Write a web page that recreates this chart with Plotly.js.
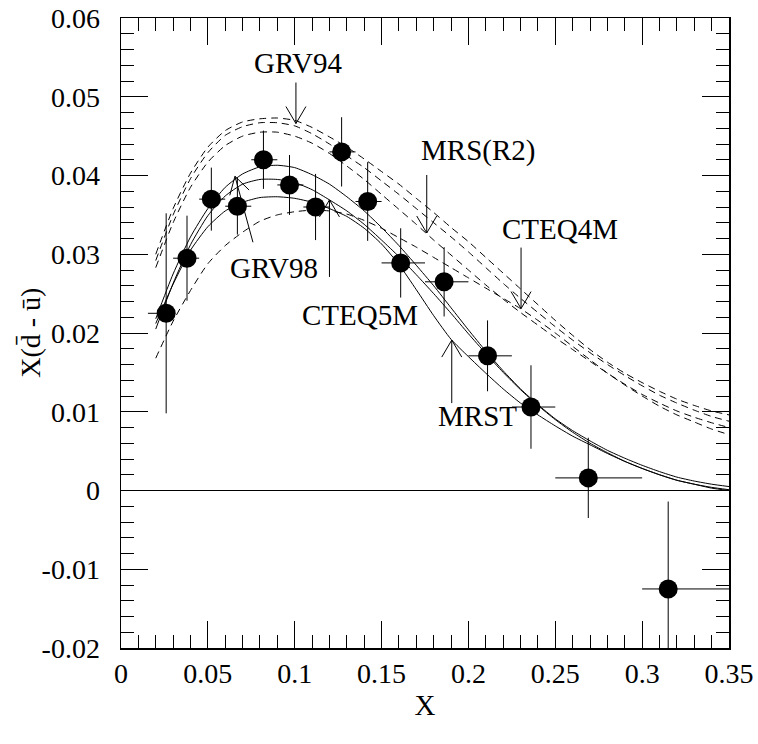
<!DOCTYPE html>
<html>
<head>
<meta charset="utf-8">
<script src="https://cdn.plot.ly/plotly-3.0.1.min.js"></script>
<style>
  html, body { margin: 0; padding: 0; background: #ffffff; }
  #plot { width: 758px; height: 744px; }
</style>
</head>
<body>
<div id="plot"></div>
<script>
// Measured x(dbar - ubar) with statistical errors and bin half-widths
const dataX = [0.026, 0.038, 0.052, 0.067, 0.082, 0.097, 0.112, 0.127, 0.142, 0.161, 0.186, 0.211, 0.236, 0.269, 0.315];
const dataY = [0.0225, 0.0295, 0.0370, 0.0361, 0.0420, 0.0388, 0.0360, 0.0430, 0.0367, 0.0289, 0.0265, 0.0171, 0.0106, 0.0016, -0.0125];
const dataYErr = [0.0127, 0.0054, 0.0040, 0.0036, 0.0037, 0.0038, 0.0042, 0.0044, 0.0050, 0.0044, 0.0044, 0.0045, 0.0053, 0.0051, 0.0111];
const dataXErrMinus = [0.0105, 0.008, 0.007, 0.007, 0.007, 0.007, 0.007, 0.007, 0.007, 0.011, 0.011, 0.011, 0.011, 0.019, 0.015];
const dataXErrPlus  = [0.0050, 0.007, 0.008, 0.008, 0.008, 0.008, 0.008, 0.008, 0.008, 0.014, 0.014, 0.014, 0.014, 0.031, 0.035];

// Parametrization curves, sampled on a common x grid
const curveX = [0.02,0.03,0.04,0.05,0.06,0.07,0.08,0.09,0.10,0.11,0.12,0.13,0.14,0.15,0.16,0.17,0.18,0.19,0.20,0.21,0.22,0.23,0.24,0.25,0.26,0.27,0.28,0.29,0.30,0.31,0.32,0.33,0.34,0.35];

// older fits (dashed)
const grv94  = [0.0300,0.0358,0.0403,0.0436,0.0457,0.0468,0.0472,0.0473,0.0470,0.0461,0.0449,0.0436,0.0421,0.0405,0.0389,0.0371,0.0353,0.0334,0.0316,0.0296,0.0276,0.0256,0.0236,0.0216,0.0197,0.0179,0.0163,0.0149,0.0137,0.0126,0.0116,0.0108,0.0101,0.0096];
const mrsR1  = [0.0292,0.0350,0.0396,0.0429,0.0451,0.0462,0.0467,0.0467,0.0463,0.0453,0.0440,0.0425,0.0410,0.0393,0.0376,0.0358,0.0340,0.0322,0.0303,0.0283,0.0263,0.0244,0.0226,0.0208,0.0191,0.0175,0.0160,0.0146,0.0133,0.0121,0.0111,0.0102,0.0094,0.0088];
const mrsR2  = [0.0283,0.0340,0.0385,0.0417,0.0438,0.0450,0.0455,0.0455,0.0450,0.0441,0.0428,0.0412,0.0395,0.0376,0.0357,0.0338,0.0318,0.0299,0.0280,0.0261,0.0243,0.0226,0.0210,0.0194,0.0179,0.0164,0.0149,0.0135,0.0122,0.0111,0.0101,0.0093,0.0086,0.0080];
const cteq4m = [0.0168,0.0215,0.0254,0.0288,0.0311,0.0328,0.0342,0.0350,0.0354,0.0356,0.0355,0.0351,0.0343,0.0333,0.0321,0.0309,0.0296,0.0283,0.0270,0.0257,0.0244,0.0231,0.0216,0.0200,0.0183,0.0166,0.0149,0.0134,0.0120,0.0107,0.0096,0.0087,0.0078,0.0071];

// newer fits (solid)
const grv98  = [0.0218,0.0275,0.0322,0.0358,0.0385,0.0402,0.0411,0.0413,0.0410,0.0401,0.0389,0.0373,0.0355,0.0334,0.0311,0.0286,0.0260,0.0232,0.0204,0.0177,0.0152,0.0129,0.0109,0.0091,0.0076,0.0063,0.0051,0.0041,0.0032,0.0024,0.0017,0.0012,0.0008,0.0005];
const cteq5m = [0.0205,0.0263,0.0312,0.0349,0.0374,0.0389,0.0395,0.0395,0.0391,0.0382,0.0369,0.0355,0.0338,0.0318,0.0297,0.0274,0.0250,0.0225,0.0199,0.0174,0.0150,0.0128,0.0108,0.0090,0.0074,0.0060,0.0048,0.0037,0.0028,0.0020,0.0013,0.0008,0.0004,0.0001];
const mrst   = [0.0212,0.0262,0.0305,0.0335,0.0355,0.0366,0.0372,0.0373,0.0371,0.0366,0.0358,0.0348,0.0333,0.0313,0.0287,0.0255,0.0222,0.0192,0.0170,0.0149,0.0129,0.0111,0.0096,0.0082,0.0069,0.0058,0.0047,0.0037,0.0028,0.0020,0.0013,0.0008,0.0003,0.0000];

// Axis ticks
const yTickVals = [-0.02, -0.01, 0, 0.01, 0.02, 0.03, 0.04, 0.05, 0.06];
const yTickText = ['-0.02', '-0.01', '0', '0.01', '0.02', '0.03', '0.04', '0.05', '0.06'];
const xTickVals = [0, 0.05, 0.1, 0.15, 0.2, 0.25, 0.3, 0.35];
const xTickText = ['0', '0.05', '0.1', '0.15', '0.2', '0.25', '0.3', '0.35'];

// Curve labels and the points their arrows touch
const labelText = ['GRV94', 'MRS(R2)', 'CTEQ4M', 'GRV98', 'CTEQ5M', 'MRST'];
const labelX    = [0.1019, 0.2055, 0.2527, 0.0881, 0.1376, 0.2050];
const labelY    = [0.0543, 0.0432, 0.0332, 0.0283, 0.0223, 0.0094];
const arrowX    = [0.1007, 0.1760, 0.2303, 0.0656, 0.1200, 0.1904];
const arrowY    = [0.0466, 0.0327, 0.0231, 0.0399, 0.0369, 0.0191];
// tail offsets of each arrow from its tip, in screen pixels (y down)
const arrowDX   = [0, 0, 0, 18, 0, 0];
const arrowDY   = [-41, -58, -61, 66, 77, 63];

const yTitle = 'X(d\u0304 - \u016b)';
const xTitle = 'X';

const serif = '"Liberation Serif", "Times New Roman", serif';

function curve(y, dashed) {
  return {
    x: curveX, y: y, type: 'scatter', mode: 'lines',
    line: { color: 'black', width: 1, dash: dashed ? '7px,5px' : 'solid', shape: 'spline', smoothing: 0.6 },
    hoverinfo: 'skip', showlegend: false
  };
}

const traces = [
  curve(grv94, true), curve(mrsR1, true), curve(mrsR2, true), curve(cteq4m, true),
  curve(grv98, false), curve(cteq5m, false), curve(mrst, false),
  {
    x: dataX, y: dataY, type: 'scatter', mode: 'markers',
    marker: { color: 'black', size: 19, line: { width: 0 } },
    error_y: { type: 'data', array: dataYErr, symmetric: true, color: 'black', thickness: 1, width: 0 },
    error_x: { type: 'data', array: dataXErrPlus, arrayminus: dataXErrMinus, symmetric: false, color: 'black', thickness: 1, width: 0 },
    showlegend: false
  }
];

// Arrow shapes: open V head at the tip plus the shaft, sized in pixels
const headLen = 17, headHalf = 10;
const shapes = arrowX.map((ax, i) => {
  const tx = arrowDX[i], ty = -arrowDY[i];          // pixel-mode y points up
  const len = Math.hypot(tx, ty);
  const ux = tx / len, uy = ty / len;
  const px = -uy, py = ux;
  const bx = ux * headLen, by = uy * headLen;
  const l = [bx + px * headHalf, by + py * headHalf];
  const r = [bx - px * headHalf, by - py * headHalf];
  return {
    type: 'path', xref: 'x', yref: 'y',
    xsizemode: 'pixel', ysizemode: 'pixel', xanchor: ax, yanchor: arrowY[i],
    path: `M${tx},${ty}L0,0M${l[0]},${l[1]}L0,0L${r[0]},${r[1]}`,
    line: { color: 'black', width: 1 }
  };
});

const annotations = labelText.map((t, i) => ({
  x: labelX[i], y: labelY[i], xref: 'x', yref: 'y', text: t, showarrow: false,
  xanchor: 'center', yanchor: 'middle', font: { family: serif, size: 29, color: 'black' }
}));

// vertical axis title, set a little closer to the tick labels
annotations.push({
  x: -0.15, y: 0.5, xref: 'paper', yref: 'paper', text: yTitle, showarrow: false,
  textangle: -90, xanchor: 'center', yanchor: 'middle',
  font: { family: serif, size: 28, color: 'black' }
});

const axisCommon = {
  showline: true, linecolor: 'black', linewidth: 1.5, mirror: 'ticks',
  ticks: 'inside', ticklen: 27, tickwidth: 1, tickcolor: 'black',
  showgrid: false, tickfont: { family: serif, size: 28, color: 'black' }
};

const layout = {
  width: 758, height: 744,
  margin: { l: 121, r: 29, t: 18, b: 96 },
  paper_bgcolor: 'white', plot_bgcolor: 'white',
  showlegend: false,
  xaxis: Object.assign({}, axisCommon, {
    range: [0, 0.35], tickvals: xTickVals, ticktext: xTickText,
    minor: { dtick: 0.01, ticks: 'inside', ticklen: 13, tickwidth: 1, tickcolor: 'black' },
    zeroline: false,
    title: { text: xTitle, font: { family: serif, size: 29, color: 'black' }, standoff: 6 }
  }),
  yaxis: Object.assign({}, axisCommon, {
    range: [-0.02, 0.06], tickvals: yTickVals, ticktext: yTickText,
    minor: { dtick: 0.002, ticks: 'inside', ticklen: 13, tickwidth: 1, tickcolor: 'black' },
    zeroline: true, zerolinecolor: 'black', zerolinewidth: 1,
    ticklabelstandoff: 14
  }),
  shapes: shapes,
  annotations: annotations
};

Plotly.newPlot('plot', traces, layout, { staticPlot: true, displayModeBar: false });
</script>
</body>
</html>
